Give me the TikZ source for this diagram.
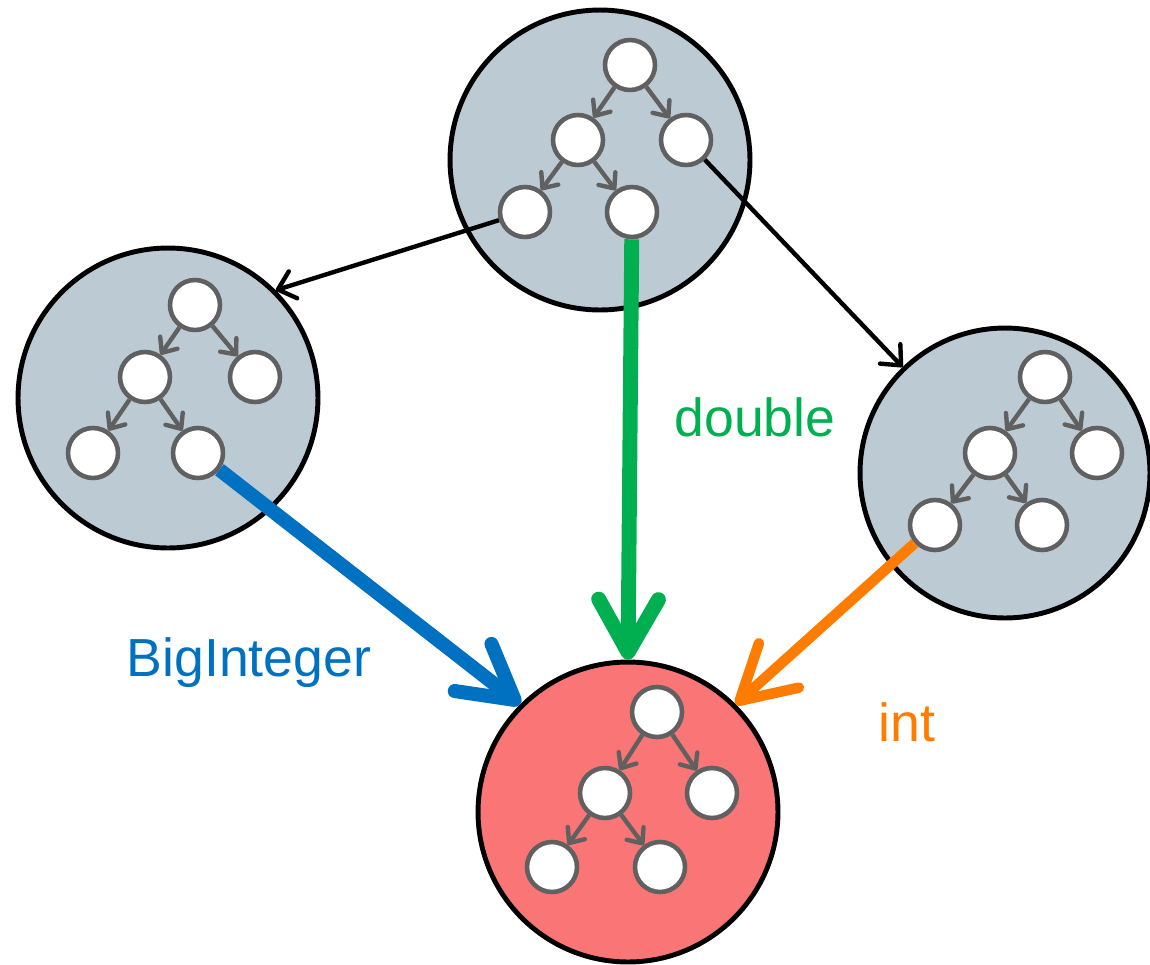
\documentclass[tikz,border=0pt]{standalone}
\usepackage{fontspec}
\setmainfont{Liberation Sans}
\usetikzlibrary{arrows.meta}
\definecolor{bgray}{HTML}{BCCBD3}
\definecolor{bred}{HTML}{FA7676}
\definecolor{ngray}{HTML}{606060}
\definecolor{cgreen}{HTML}{00B050}
\definecolor{cblue}{HTML}{0070C0}
\definecolor{corange}{HTML}{FF7C00}
\begin{document}
\begin{tikzpicture}[x=0.02cm,y=-0.02cm,
  big/.style={circle,draw=black,line width=2.8pt,inner sep=0,minimum size=6cm},
  small/.style={circle,draw=ngray,fill=white,line width=2.6pt,inner sep=0,minimum size=1cm},
  tarrow/.style={draw=ngray,line width=2.5pt,-{Straight Barb[length=7pt,width=12pt,round]}},
  thinarrow/.style={draw=black,line width=2.5pt,-{Straight Barb[length=9pt,width=16pt,round]}},
  fat/.style={line width=#1,-{Straight Barb[length=30pt,width=34pt,round]}},
  lab/.style={font=\fontsize{30.5}{35}\selectfont,inner sep=0}]
\useasboundingbox (0,0) rectangle (1150,964);
% big circles
\node[big,fill=bgray] (T) at (600,160) {};
\node[big,fill=bgray] (L) at (168,398) {};
\node[big,fill=bgray,minimum size=5.8cm] (R) at (1005,473) {};
\node[big,fill=bred] (B) at (628,812) {};
% top tree
\node[small] (T1) at (630,65) {};
\node[small] (T2) at (686,140) {};
\node[small] (T0) at (578,140) {};
\node[small] (T3) at (525,212) {};
\node[small] (T4) at (632,212) {};
\draw[tarrow] (T1) -- (T0);
\draw[tarrow] (T1) -- (T2);
\draw[tarrow] (T0) -- (T3);
\draw[tarrow] (T0) -- (T4);
% left tree
\node[small] (L1) at (195,305) {};
\node[small] (L0) at (145,377) {};
\node[small] (L2) at (255,377) {};
\node[small] (L3) at (93,453) {};
\node[small] (L4) at (198,453) {};
\draw[tarrow] (L1) -- (L0);
\draw[tarrow] (L1) -- (L2);
\draw[tarrow] (L0) -- (L3);
\draw[tarrow] (L0) -- (L4);
% right tree
\node[small] (R1) at (1045,377) {};
\node[small] (R0) at (990,453) {};
\node[small] (R2) at (1097,453) {};
\node[small] (R3) at (935,525) {};
\node[small] (R4) at (1042,525) {};
\draw[tarrow] (R1) -- (R0);
\draw[tarrow] (R1) -- (R2);
\draw[tarrow] (R0) -- (R3);
\draw[tarrow] (R0) -- (R4);
% bottom tree
\node[small] (B1) at (657,712) {};
\node[small] (B0) at (605,793) {};
\node[small] (B2) at (712,793) {};
\node[small] (B3) at (552,867) {};
\node[small] (B4) at (660,867) {};
\draw[tarrow] (B1) -- (B0);
\draw[tarrow] (B1) -- (B2);
\draw[tarrow] (B0) -- (B3);
\draw[tarrow] (B0) -- (B4);
% connectors
\draw[thinarrow] (T3) -- (L.45);
\draw[thinarrow] (T2) -- (R.134);
\draw[fat=8.5pt,cgreen] (T4) -- (B.90);
\draw[fat=8pt,cblue] (L4) -- (B.135);
\draw[fat=6pt,corange] (R3) -- (B.45);
% labels
\node[lab,text=cgreen] (dl) at (755,417) {double};
\node[lab,text=cblue] (bl) at (249,663) {BigInteger};
\node[lab,text=corange] (il) at (907,722) {int};
\end{tikzpicture}
\end{document}
